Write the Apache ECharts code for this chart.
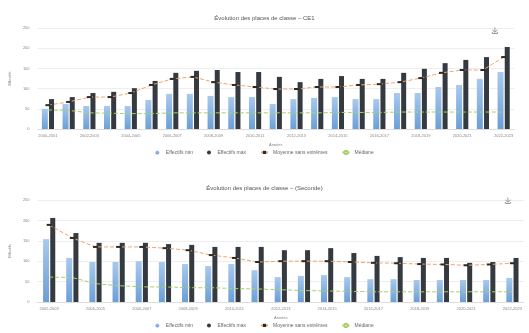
<!DOCTYPE html>
<html>
<head>
<meta charset="utf-8">
<script src="https://cdn.jsdelivr.net/npm/echarts@6/dist/echarts.min.js"></script>
<style>
  html, body { margin: 0; padding: 0; background: #fff; }
  #top_body { width: 529px; height: 166px; }
  #bottom_body { width: 529px; height: 167px; }
</style>
</head>
<body>
<div id="top_body"></div>
<div id="bottom_body"></div>
<script>
// catégories
var yearsTop = ['2000-2001', '2001-2002', '2002-2003', '2003-2004', '2004-2005', '2005-2006',
    '2006-2007', '2007-2008', '2008-2009', '2009-2010', '2010-2011', '2011-2012',
    '2012-2013', '2013-2014', '2014-2015', '2015-2016', '2016-2017', '2017-2018',
    '2018-2019', '2019-2020', '2020-2021', '2021-2022', '2022-2023'];
var yearsBottom = ['2002-2003', '2003-2004', '2004-2005', '2005-2006', '2006-2007', '2007-2008',
    '2008-2009', '2009-2010', '2010-2011', '2011-2012', '2012-2013', '2013-2014',
    '2014-2015', '2015-2016', '2016-2017', '2017-2018', '2018-2019', '2019-2020',
    '2020-2021', '2021-2022', '2022-2023'];

var legendNames = ['Effectifs min', 'Effectifs max', 'Moyenne sans extrêmes', 'Médiane'];

// graphique du haut
var minTop = [50, 62, 57, 57, 57, 72, 87, 87, 82, 79, 79, 62, 74, 77, 79, 74, 74, 89, 89, 104, 109, 124, 141];
var maxTop = [74, 79, 89, 92, 101, 119, 139, 144, 146, 141, 141, 129, 116, 124, 131, 124, 124, 139, 149, 163, 171, 178, 203];
var avgTop = [59, 67, 79, 79, 89, 109, 124, 129, 116, 109, 104, 99, 99, 104, 104, 109, 111, 116, 126, 139, 146, 146, 178];
var medTop = [47, 46, 40, 39, 38, 38, 40, 40, 40, 40, 40, 40, 40, 40, 41, 41, 41, 42, 42, 42, 42, 42, 42];

// graphique du bas
var minBottom = [154, 108, 98, 98, 100, 98, 93, 88, 93, 78, 61, 64, 66, 61, 56, 56, 54, 54, 54, 54, 59];
var maxBottom = [206, 169, 145, 145, 145, 142, 140, 135, 135, 135, 127, 127, 132, 120, 113, 110, 108, 108, 96, 98, 108];
var avgBottom = [189, 157, 135, 135, 135, 132, 127, 115, 108, 98, 100, 100, 100, 98, 96, 95, 93, 92, 90, 92, 95];
var medBottom = [61, 60, 45, 40, 37, 37, 35, 35, 33, 32, 30, 28, 27, 26, 25, 25, 25, 25, 25, 25, 25];

function buildOption(title, cats, mins, maxs, avgs, meds, g, pos) {
    return {
        title: {
            text: title,
            left: 'center',
            top: pos.title,
            textStyle: { fontSize: 6, fontWeight: 'normal', color: '#555' }
        },
        toolbox: {
            right: pos.tool,
            top: pos.title,
            itemSize: 6,
            iconStyle: { borderColor: '#999' },
            feature: { saveAsImage: {} }
        },
        legend: {
            bottom: pos.legend,
            itemWidth: 7,
            itemHeight: 4,
            itemGap: 14,
            textStyle: { fontSize: 5, color: '#666' },
            data: [
                { name: legendNames[0], icon: 'circle' },
                { name: legendNames[1], icon: 'circle' },
                { name: legendNames[2] },
                { name: legendNames[3] }
            ]
        },
        grid: g,
        xAxis: {
            type: 'category',
            data: cats,
            name: 'Années',
            nameLocation: 'middle',
            nameGap: 10,
            nameTextStyle: { fontSize: 4, color: '#888' },
            axisLine: { lineStyle: { color: '#ddd' } },
            axisTick: { show: false },
            axisLabel: { interval: 1, fontSize: 4, color: '#888', margin: 5 }
        },
        yAxis: {
            type: 'value',
            min: 0,
            max: 250,
            interval: 50,
            name: 'Effectifs',
            nameLocation: 'middle',
            nameGap: 16,
            nameTextStyle: { fontSize: 4, color: '#888' },
            axisLabel: { fontSize: 4, color: '#888' },
            splitLine: { lineStyle: { color: '#eee' } }
        },
        series: [
            {
                name: legendNames[0],
                type: 'bar',
                barWidth: 6,
                barGap: '20%',
                data: mins,
                itemStyle: {
                    color: new echarts.graphic.LinearGradient(0, 0, 0, 1, [
                        { offset: 0, color: '#a8c9ee' },
                        { offset: 1, color: '#6b9fd6' }
                    ])
                }
            },
            {
                name: legendNames[1],
                type: 'bar',
                barWidth: 5,
                data: maxs,
                itemStyle: { color: '#353a40' }
            },
            {
                name: legendNames[2],
                type: 'line',
                data: avgs,
                symbol: 'rect',
                symbolSize: [5, 2],
                itemStyle: { color: '#2a2a2a' },
                lineStyle: { color: '#f2a46a', width: 1, type: 'dashed' },
                z: 5
            },
            {
                name: legendNames[3],
                type: 'line',
                data: meds,
                showSymbol: false,
                itemStyle: { color: '#a6d16a' },
                lineStyle: { color: '#a6d16a', width: 1, type: 'dashed' },
                z: 5
            }
        ]
    };
}

var topChart = echarts.init(document.getElementById('top_body'));
topChart.setOption(buildOption('Évolution des places de classe – CE1',
    yearsTop, minTop, maxTop, avgTop, medTop,
    { left: 37, right: 15, top: 28, bottom: 37 },
    { title: 10, tool: 14, legend: 6 }));

var bottomChart = echarts.init(document.getElementById('bottom_body'));
bottomChart.setOption(buildOption('Évolution des places de classe – (Seconde)',
    yearsBottom, minBottom, maxBottom, avgBottom, medBottom,
    { left: 28, right: 5, top: 34, bottom: 31 },
    { title: 14, tool: 1, legend: 0 }));
</script>
</body>
</html>
